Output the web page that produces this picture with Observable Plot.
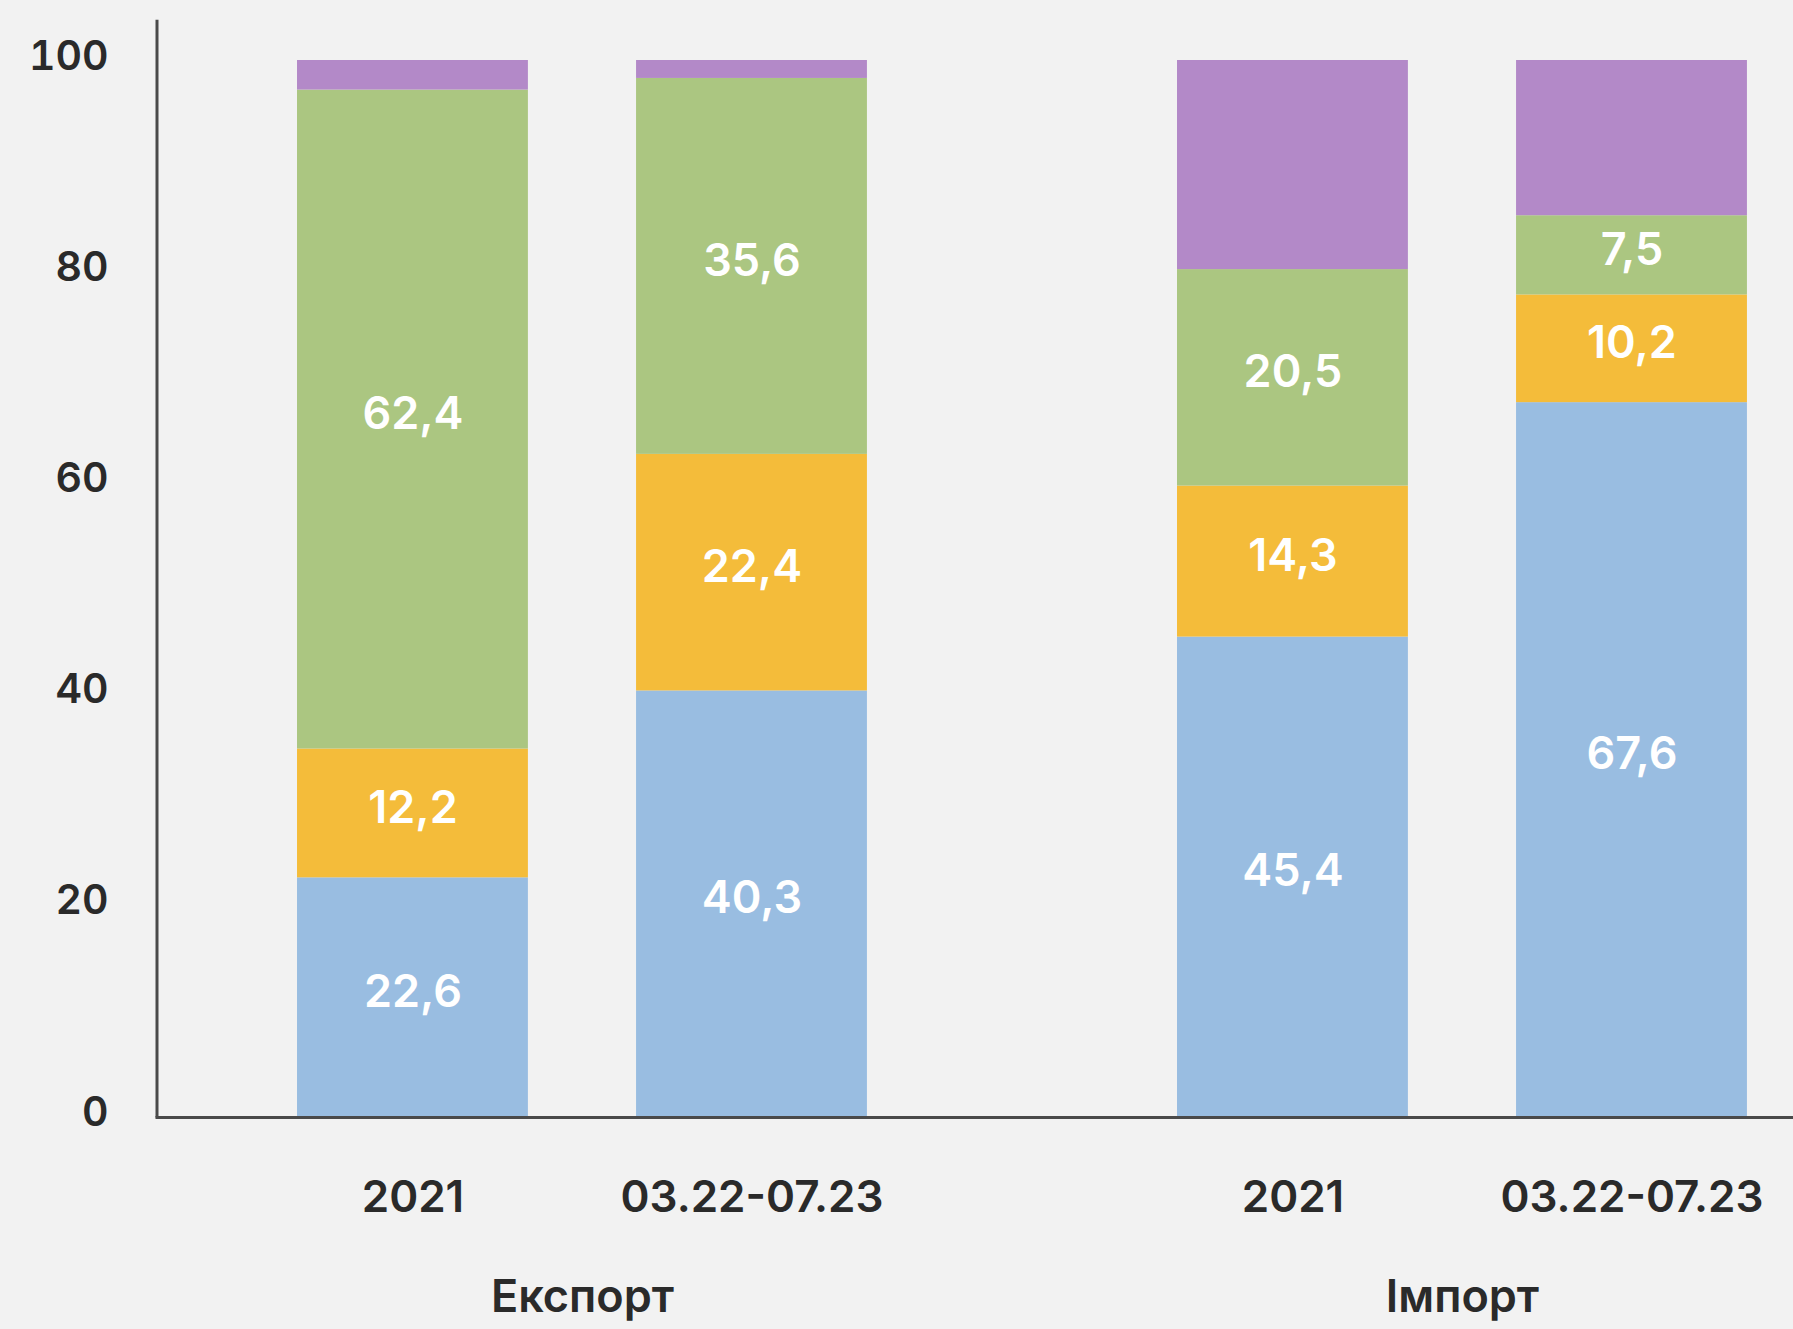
<!DOCTYPE html>
<html>
<head>
<meta charset="utf-8">
<script src="https://cdn.jsdelivr.net/npm/d3@7"></script>
<script src="https://cdn.jsdelivr.net/npm/@observablehq/plot@0.6"></script>
<style>
  html, body { margin: 0; padding: 0; background: #f2f2f2; }
</style>
</head>
<body>
<div id="chart"></div>
<script>
// ---- data ----
const groupNames = ["Експорт", "Імпорт"];
const periodNames = ["2021", "03.22-07.23"];
const barGroups = ["Експорт", "Експорт", "Імпорт", "Імпорт"];
const barPeriods = ["2021", "03.22-07.23", "2021", "03.22-07.23"];
const seriesNames = ["Сегмент 1", "Сегмент 2", "Сегмент 3", "Інше"];
const seriesColors = ["#99bde1", "#f4bc3a", "#abc681", "#b389c8"];
const series1 = [22.6, 40.3, 45.4, 67.6];
const series2 = [12.2, 22.4, 14.3, 10.2];
const series3 = [62.4, 35.6, 20.5, 7.5];
const series4 = [2.8, 1.7, 19.8, 14.7];
const labelledSeries = ["Сегмент 1", "Сегмент 2", "Сегмент 3"];
const yTicks = [0, 20, 40, 60, 80, 100];

const allSeries = [series1, series2, series3, series4];
const rows = [];
barGroups.forEach((g, i) => {
  allSeries.forEach((vals, s) => {
    rows.push({group: g, period: barPeriods[i], series: seriesNames[s], value: vals[i]});
  });
});
const labelRows = rows.filter(d => labelledSeries.includes(d.series));
const fmt = v => v.toFixed(1).replace(".", ",");

const W = 1793, H = 1329, ML = 157, MT = 60, MB = 213;
const font = "Inter, 'DejaVu Sans', sans-serif";

const chart = Plot.plot({
  width: W,
  height: H,
  marginTop: MT,
  marginBottom: MB,
  marginLeft: ML,
  marginRight: 0,
  style: {background: "#f2f2f2", fontFamily: font, fontSize: "40px", color: "#2a2a2a", fontWeight: 600},
  fx: {domain: groupNames, paddingInner: 0.2727, paddingOuter: 0.0659, align: 0.905, round: false, label: null},
  x: {domain: periodNames, paddingInner: 0.319, paddingOuter: 0.1034, round: false, label: null},
  y: {domain: [0, 100], label: null},
  color: {domain: seriesNames, range: seriesColors},
  marks: [
    Plot.barY(rows, Plot.stackY({fx: "group", x: "period", y: "value", z: "series", fill: "series", order: null})),
    Plot.text(labelRows, Plot.stackY({
      fx: "group", x: "period", y: "value", z: "series", order: null,
      text: d => fmt(d.value), fill: "white", fontSize: 45, fontWeight: 600, dy: -5
    })),
    Plot.axisY({ticks: yTicks, tickSize: 0, tickPadding: 154, fontSize: 41, fontWeight: 600, dy: -4, label: null}),
    Plot.axisX({tickSize: 0, tickPadding: 64, fontSize: 44, fontWeight: 600, label: null}),
    Plot.axisFx({anchor: "bottom", tickSize: 0, tickPadding: 164, fontSize: 45, fontWeight: 600, label: null})
  ]
});

document.getElementById("chart").appendChild(chart);

// axis lines
const svg = d3.select(chart);
const yScale = chart.scale("y");
const y0 = yScale.apply(0);
const yTop = yScale.apply(103.8);
svg.append("line")
  .attr("x1", ML).attr("x2", ML).attr("y1", yTop).attr("y2", y0 + 1.5)
  .attr("stroke", "#4a4a4a").attr("stroke-width", 3);
svg.append("line")
  .attr("x1", ML - 1.5).attr("x2", W).attr("y1", y0 + 1.5).attr("y2", y0 + 1.5)
  .attr("stroke", "#4a4a4a").attr("stroke-width", 3);
</script>
</body>
</html>
